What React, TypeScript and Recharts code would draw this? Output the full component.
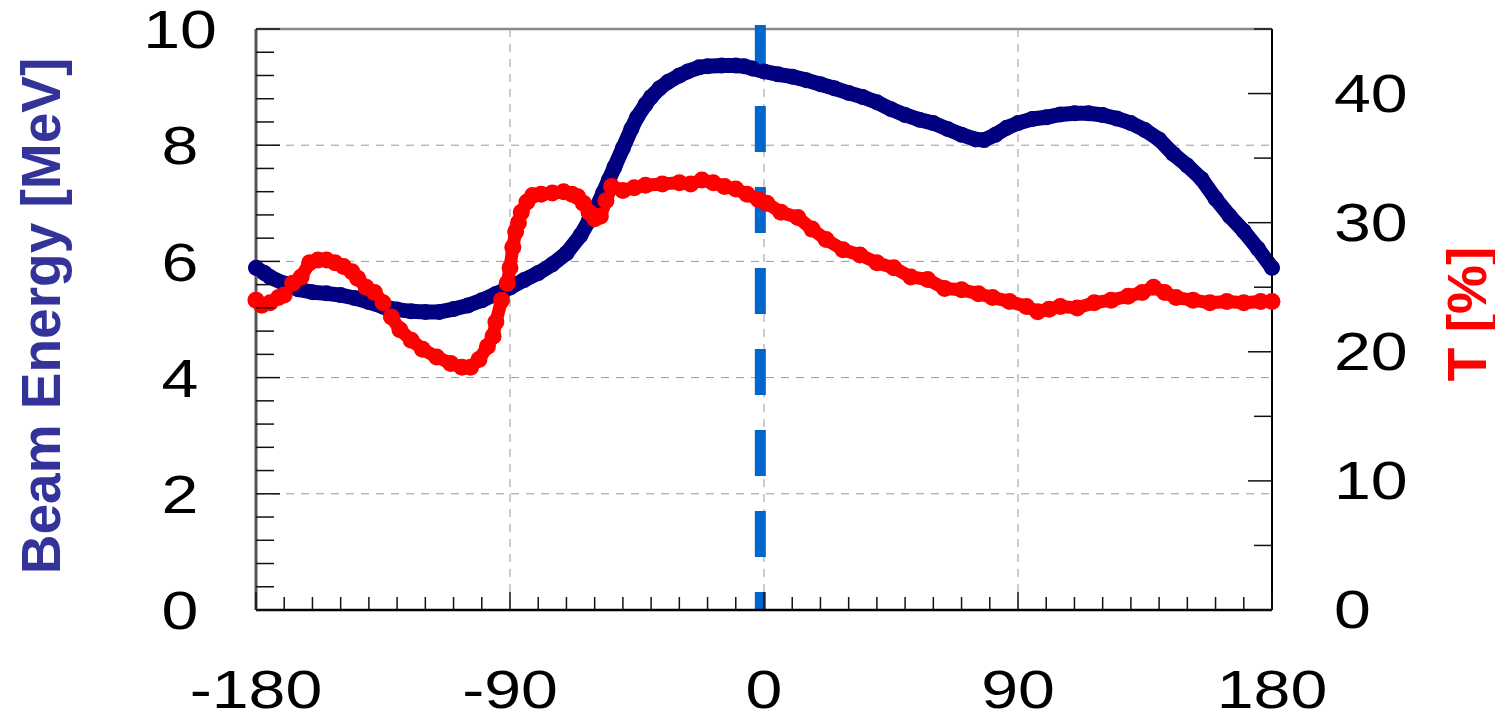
import {
  CartesianGrid,
  ComposedChart,
  Label,
  Line,
  ReferenceLine,
  XAxis,
  YAxis,
} from "recharts";

const FONT = "'Liberation Sans', Arial, sans-serif";

// beam energy [MeV] vs phase [deg]
const energyAngles = [
  -180, -177, -175, -170, -165, -160, -155, -150, -145, -140, -135, -130, -125,
  -120, -115, -110, -105, -100, -95, -90, -85, -80, -75, -70, -65, -62, -60,
  -57, -55, -53, -50, -47, -45, -42, -40, -37, -34, -30, -27, -23, -20, -15,
  -10, -7, -4, 0, 5, 10, 15, 20, 25, 30, 35, 40, 45, 50, 55, 60, 65, 70, 75,
  78, 82, 86, 90, 95, 100, 105, 110, 115, 120, 125, 130, 135, 140, 145, 150,
  155, 160, 165, 170, 175, 180,
];
const energyValues = [
  5.89, 5.8, 5.73, 5.62, 5.52, 5.47, 5.45, 5.42, 5.37, 5.3, 5.22, 5.17, 5.14,
  5.13, 5.13, 5.18, 5.24, 5.33, 5.44, 5.55, 5.68, 5.8, 5.95, 6.14, 6.45, 6.7,
  6.86, 7.18, 7.4, 7.62, 7.95, 8.28, 8.48, 8.7, 8.83, 8.98, 9.09, 9.2, 9.27,
  9.34, 9.36, 9.37, 9.37, 9.36, 9.32, 9.27, 9.22, 9.18, 9.12, 9.05, 8.98, 8.9,
  8.83, 8.74, 8.62, 8.52, 8.44, 8.38, 8.28, 8.18, 8.1, 8.09, 8.18, 8.3, 8.38,
  8.45, 8.48, 8.53, 8.55, 8.55, 8.52, 8.46, 8.38, 8.26, 8.1, 7.85, 7.65, 7.42,
  7.08, 6.78, 6.52, 6.22, 5.89,
];

// transmission T [%] vs phase [deg]
const tAngles = [
  -180, -178, -175, -172, -170, -167, -164, -161, -158, -155, -152, -149, -146,
  -144, -141, -138, -135, -132, -129, -125, -121, -116, -111, -107, -104, -101,
  -98, -96, -95, -93, -91, -90, -89, -88, -87, -86, -84, -82, -79, -75, -71,
  -68, -66, -64, -62, -60, -58, -56, -54, -50, -46, -42, -36, -30, -26, -22,
  -18, -14, -10, -6, -2, 1, 6, 12, 17, 22, 28, 34, 40, 46, 52, 58, 64, 70, 76,
  81, 87, 93, 97, 101, 105, 111, 117, 123, 129, 134, 138, 142, 146, 152, 158,
  164, 170, 176, 180,
];
const tValues = [
  24.0, 23.6, 23.8, 24.2, 24.4, 25.3, 25.8, 26.9, 27.1, 27.1, 26.9, 26.6, 26.2,
  25.7, 25.0, 24.6, 23.8, 22.7, 21.7, 20.9, 20.2, 19.6, 19.1, 18.8, 18.8, 19.4,
  20.4, 21.2, 22.3, 24.0, 25.3, 26.5, 28.1, 29.3, 30.0, 30.8, 31.6, 32.1, 32.2,
  32.3, 32.4, 32.2, 32.0, 31.5, 30.8, 30.3, 30.5, 31.7, 32.8, 32.5, 32.7, 32.9,
  33.0, 33.1, 33.0, 33.3, 33.1, 32.8, 32.6, 32.2, 31.8, 31.5, 30.8, 30.4, 29.5,
  28.7, 27.9, 27.5, 26.9, 26.5, 25.8, 25.6, 24.9, 24.8, 24.5, 24.2, 23.9, 23.5,
  23.1, 23.3, 23.5, 23.4, 23.8, 24.0, 24.3, 24.6, 25.0, 24.6, 24.2, 24.0, 23.8,
  23.9, 23.8, 23.9, 23.9,
];

const xTicks = [
  -180, -170, -160, -150, -140, -130, -120, -110, -100, -90, -80, -70, -60, -50,
  -40, -30, -20, -10, 0, 10, 20, 30, 40, 50, 60, 70, 80, 90, 100, 110, 120,
  130, 140, 150, 160, 170, 180,
];
const xLabels = [-180, -90, 0, 90, 180];
const energyTicks = [
  0, 0.4, 0.8, 1.2, 1.6, 2, 2.4, 2.8, 3.2, 3.6, 4, 4.4, 4.8, 5.2, 5.6, 6, 6.4,
  6.8, 7.2, 7.6, 8, 8.4, 8.8, 9.2, 9.6, 10,
];
const energyLabels = [0, 2, 4, 6, 8, 10];
const tTicks = [0, 5, 10, 15, 20, 25, 30, 35, 40, 45];
const tLabels = [0, 10, 20, 30, 40];
const gridX = [-90, 0, 90];
const gridY = [2, 4, 6, 8];
const markerPhase = -1.3;

const energyData = energyAngles.map((a, i) => ({ phase: a, energy: energyValues[i] }));
const tData = tAngles.map((a, i) => ({ phase: a, t: tValues[i] }));

const isLabel = (labels: number[], v: number) =>
  labels.some((l) => Math.abs(l - v) < 1e-6);

const tickText = (x: number, y: number, v: number, anchor: string) => (
  <text
    transform={`translate(${x},${y}) scale(1.25,1)`}
    textAnchor={anchor}
    dominantBaseline="central"
    fontSize={53}
    fontFamily={FONT}
    fill="#000"
  >
    {v}
  </text>
);

const XTick = (props: any) => {
  const { x, y, payload } = props;
  const major = isLabel(xLabels, payload.value);
  return (
    <g>
      <line x1={x} x2={x} y1={y} y2={y - (major ? 18 : 13)} stroke="#111" strokeWidth={1.5} />
      {major && tickText(x, y + 80, payload.value, "middle")}
    </g>
  );
};

const LeftTick = (props: any) => {
  const { x, y, payload } = props;
  const major = isLabel(energyLabels, payload.value);
  return (
    <g>
      <line x1={x} x2={x + (major ? 24 : 18)} y1={y} y2={y} stroke="#111" strokeWidth={1.5} />
      {major && tickText(x - 76, y + 1, payload.value, "middle")}
    </g>
  );
};

const RightTick = (props: any) => {
  const { x, y, payload } = props;
  const major = isLabel(tLabels, payload.value);
  return (
    <g>
      <line x1={x} x2={x - (major ? 24 : 18)} y1={y} y2={y} stroke="#111" strokeWidth={1.5} />
      {major && tickText(x + 62, y, payload.value, "start")}
    </g>
  );
};

// rotated axis titles, placed in the chart's own pixel space
const AxisTitle = ({ cx, cy, text, color }: any) => (
  <text
    transform={`translate(${cx},${cy}) rotate(-90)`}
    textAnchor="middle"
    dominantBaseline="central"
    fontSize={55}
    fontWeight="bold"
    fontFamily={FONT}
    fill={color}
  >
    {text}
  </text>
);

export default function App() {
  return (
    <ComposedChart
      width={1495}
      height={715}
      margin={{ top: 21, right: 0, bottom: 0, left: 0 }}
      style={{ overflow: "visible" }}
    >
      <CartesianGrid
        yAxisId="left"
        horizontalValues={gridY}
        verticalValues={gridX}
        stroke="#9a9a9a"
        strokeDasharray="8 7"
      />
      <XAxis
        type="number"
        dataKey="phase"
        domain={[-180, 180]}
        ticks={xTicks}
        interval={0}
        height={113}
        tickSize={0}
        tickMargin={0}
        tickLine={false}
        axisLine={{ stroke: "#000", strokeWidth: 2.5 }}
        tick={(p: any) => <XTick {...p} />}
      />
      <YAxis
        yAxisId="left"
        type="number"
        domain={[0, 10]}
        ticks={energyTicks}
        interval={0}
        width={248}
        tickSize={0}
        tickMargin={0}
        tickLine={false}
        axisLine={{ stroke: "#555", strokeWidth: 3 }}
        tick={(p: any) => <LeftTick {...p} />}
      >
        <Label content={() => <AxisTitle cx={33} cy={308} text="Beam Energy [MeV]" color="#333399" />} />
      </YAxis>
      <YAxis
        yAxisId="right"
        orientation="right"
        type="number"
        domain={[0, 45]}
        ticks={tTicks}
        interval={0}
        width={231}
        tickSize={0}
        tickMargin={0}
        tickLine={false}
        axisLine={{ stroke: "#000", strokeWidth: 2 }}
        tick={(p: any) => <RightTick {...p} />}
      >
        <Label content={() => <AxisTitle cx={1459} cy={306} text="T [%]" color="#ff0000" />} />
      </YAxis>
      <ReferenceLine yAxisId="left" y={10} stroke="#8a8a8a" strokeWidth={2.5} />
      <Line
        data={energyData}
        yAxisId="left"
        dataKey="energy"
        type="linear"
        stroke="#000080"
        strokeWidth={15}
        strokeLinejoin="round"
        strokeLinecap="round"
        dot={{ r: 8, fill: "#000080", stroke: "none" }}
        isAnimationActive={false}
      />
      <Line
        data={tData}
        yAxisId="right"
        dataKey="t"
        type="linear"
        stroke="#ff0000"
        strokeWidth={13}
        strokeLinejoin="round"
        strokeLinecap="round"
        dot={{ r: 8.5, fill: "#ff0000", stroke: "none" }}
        isAnimationActive={false}
      />
      <ReferenceLine
        yAxisId="left"
        segment={[
          { x: markerPhase, y: 10.07 },
          { x: markerPhase, y: 0 },
        ]}
        ifOverflow="visible"
        stroke="#0066cc"
        strokeWidth={11}
        strokeDasharray="46 35"
      />
    </ComposedChart>
  );
}
